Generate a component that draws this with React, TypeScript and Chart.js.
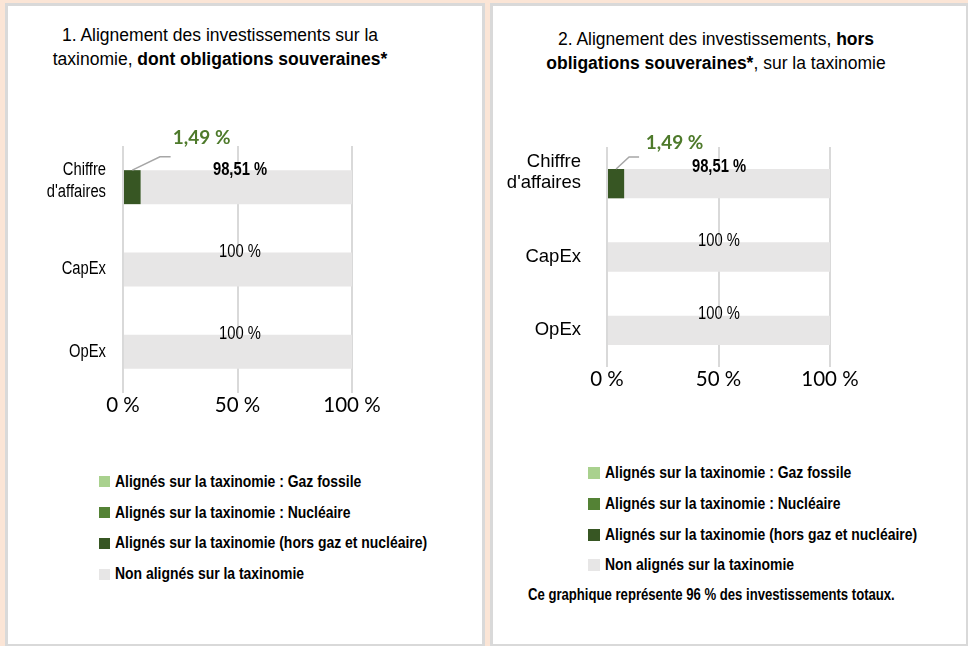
import React, { useEffect, useRef } from "react";
import { Chart, registerables } from "chart.js";

Chart.register(...registerables);

// ---------------- data ----------------
const CATEGORIES: (string | string[])[] = [["Chiffre", "d'affaires"], "CapEx", "OpEx"];
const SERIES_NAMES = [
  "Alignés sur la taxinomie : Gaz fossile",
  "Alignés sur la taxinomie : Nucléaire",
  "Alignés sur la taxinomie (hors gaz et nucléaire)",
  "Non alignés sur la taxinomie",
];
const GAS_VALUES = [0, 0, 0];
const NUCLEAR_VALUES = [0, 0, 0];
const ALIGNED_VALUES = [7.7, 0, 0];
const NOT_ALIGNED_VALUES = [92.3, 100, 100];
const ALIGNED_LABELS = ["1,49 %", "", ""];
const NOT_ALIGNED_LABELS = ["98,51 %", "100 %", "100 %"];
const X_TICKS = [0, 50, 100];
const FOOTNOTE = "Ce graphique représente 96 % des investissements totaux.";

const SERIES_COLORS = ["#a9d18e", "#548235", "#375623", "#e7e6e6"];
const SANS = "'Liberation Sans', Arial, sans-serif";
const NARROW_X = 0.82;

function drawText(ctx: any, text: string, x: number, y: number, font: string, align: string, sx: number, color: string) {
  ctx.save();
  ctx.translate(x, y);
  ctx.scale(sx, 1);
  ctx.font = font;
  ctx.fillStyle = color;
  ctx.textAlign = align;
  ctx.textBaseline = "middle";
  ctx.fillText(text, 0, 0);
  ctx.restore();
}

const labelPlugin = {
  id: "barLabels",
  afterDraw(chart: any, _args: any, opts: any) {
    const { ctx } = chart;
    const xs = chart.scales.x;
    const ys = chart.scales.y;
    // category labels on the y axis
    const Y = opts.yLabel;
    (chart.data.labels as any[]).forEach((lab: any, i: number) => {
      const lines: string[] = Array.isArray(lab) ? lab : [lab];
      const cy = ys.getPixelForTick(i) + (lines.length > 1 ? Y.multiDy : 0);
      const x = ys.right - Y.pad;
      lines.forEach((line, k) => {
        const y = cy + (k - (lines.length - 1) / 2) * Y.lineHeight;
        drawText(ctx, line, x, y, `${Y.size}px ${SANS}`, "right", Y.sx, "#000");
      });
    });
    const aligned = chart.getDatasetMeta(2).data;
    const rest = chart.getDatasetMeta(3).data;
    rest.forEach((bar: any, i: number) => {
      const text = NOT_ALIGNED_LABELS[i];
      if (!text) return;
      const top = bar.y - bar.height / 2;
      const font = `${ALIGNED_VALUES[i] > 0 ? "bold " : ""}${opts.valueSize}px ${SANS}`;
      drawText(ctx, text, xs.getPixelForValue(50) + opts.valueDx, top + opts.valueDy, font, "center", NARROW_X, "#000");
    });
    aligned.forEach((bar: any, i: number) => {
      const text = ALIGNED_LABELS[i];
      if (!text) return;
      const top = bar.y - bar.height / 2;
      const sx = (bar.x + bar.base) / 2;
      const L = opts.leader;
      ctx.save();
      ctx.strokeStyle = "#a6a6a6";
      ctx.lineWidth = 1.5;
      ctx.beginPath();
      ctx.moveTo(sx, top);
      ctx.lineTo(sx + L.ex, top + L.ey);
      ctx.lineTo(sx + L.ex + L.hx, top + L.ey);
      ctx.stroke();
      ctx.restore();
      drawText(ctx, text, sx + L.lx, top + L.ly, `bold ${opts.greenSize}px Lato, 'Open Sans', sans-serif`, "center", 1, "#4e7a2b");
    });
  },
};

type Cfg = {
  yLabel: { size: number; sx: number; lineHeight: number; pad: number; multiDy: number };
  barPct: number;
  padTop: number;
  padRight: number;
  yWidth: number;
  xHeight: number;
  valueSize: number;
  valueDx: number;
  valueDy: number;
  greenSize: number;
  leader: { ex: number; ey: number; hx: number; lx: number; ly: number };
};

function BarChart({ cfg, w, h, left, top }: { cfg: Cfg; w: number; h: number; left: number; top: number }) {
  const ref = useRef<HTMLCanvasElement>(null);
  useEffect(() => {
    if (!ref.current) return;
    const values = [GAS_VALUES, NUCLEAR_VALUES, ALIGNED_VALUES, NOT_ALIGNED_VALUES];
    const chart = new Chart(ref.current, {
      type: "bar",
      data: {
        labels: CATEGORIES as any,
        datasets: SERIES_NAMES.map((name, i) => ({
          label: name,
          data: values[i],
          backgroundColor: SERIES_COLORS[i],
          borderWidth: 0,
          barPercentage: cfg.barPct,
          categoryPercentage: 1,
        })),
      },
      options: {
        indexAxis: "y",
        responsive: false,
        animation: false,
        devicePixelRatio: 1,
        layout: { padding: { top: cfg.padTop, right: cfg.padRight, left: 0, bottom: 0 } },
        plugins: {
          legend: { display: false },
          title: { display: false },
          tooltip: { enabled: false },
          barLabels: cfg as any,
        } as any,
        scales: {
          x: {
            stacked: true,
            min: 0,
            max: 100,
            position: "bottom",
            afterBuildTicks: (s: any) => {
              s.ticks = X_TICKS.map((v) => ({ value: v }));
            },
            afterFit: (s: any) => {
              s.height = cfg.xHeight;
            },
            grid: { color: "#d9d9d9", lineWidth: 2, drawTicks: false },
            border: { display: false },
            ticks: {
              padding: 0,
              color: "#000",
              font: { family: "Lato, 'Open Sans', sans-serif", size: 20.5 },
              callback: (v: any) => `${v} %`,
              maxRotation: 0,
              autoSkip: false,
            },
          },
          y: {
            stacked: true,
            afterFit: (s: any) => {
              s.width = cfg.yWidth;
            },
            grid: { display: false, drawTicks: false },
            border: { display: false },
            ticks: { display: false },
          },
        },
      },
      plugins: [labelPlugin as any],
    });
    return () => chart.destroy();
  }, []);
  return <canvas ref={ref} width={w} height={h} style={{ position: "absolute", left, top, width: w, height: h }} />;
}

const CFG_1: Cfg = {
  yLabel: { size: 18, sx: NARROW_X, lineHeight: 22, pad: 17, multiDy: -6 },
  barPct: 0.413,
  padTop: 36,
  padRight: 123,
  yWidth: 113,
  xHeight: 37,
  valueSize: 18,
  valueDx: 2.5,
  valueDy: -0.5,
  greenSize: 19,
  leader: { ex: 27.6, ey: -13.4, hx: 10.7, lx: 69.3, ly: -32.7 },
};

const CFG_2: Cfg = {
  yLabel: { size: 18.5, sx: 1, lineHeight: 21, pad: 26, multiDy: -11 },
  barPct: 0.4,
  padTop: 37,
  padRight: 130,
  yWidth: 112,
  xHeight: 43,
  valueSize: 18,
  valueDx: 0.5,
  valueDy: -1.5,
  greenSize: 19,
  leader: { ex: 13, ey: -12, hx: 10, lx: 58.5, ly: -26 },
};

const narrowText = {
  fontFamily: SANS,
  fontWeight: "bold" as const,
  color: "#000",
  lineHeight: "22px",
  display: "inline-block",
  transform: `scaleX(${NARROW_X})`,
  transformOrigin: "left center",
  whiteSpace: "nowrap" as const,
};

function Legend({ left, top, box, rowGap }: { left: number; top: number; box: number; rowGap: number }) {
  return (
    <>
      {SERIES_NAMES.map((name, i) => (
        <div
          key={name}
          style={{
            position: "absolute",
            left,
            top: top + i * rowGap - 11,
            height: 22,
            display: "flex",
            alignItems: "center",
            whiteSpace: "nowrap",
          }}
        >
          <span style={{ width: box, height: box, background: SERIES_COLORS[i], marginRight: 5, flex: "none" }} />
          <span style={{ ...narrowText, fontSize: 17 }}>{name}</span>
        </div>
      ))}
    </>
  );
}

export default function App() {
  const panel = {
    position: "absolute" as const,
    top: 3,
    height: 644,
    boxSizing: "border-box" as const,
    border: "3px solid #d9d9d9",
    background: "#ffffff",
  };
  const title = {
    position: "absolute" as const,
    width: 480,
    textAlign: "center" as const,
    fontFamily: SANS,
    fontSize: 17.5,
    lineHeight: "24.5px",
    color: "#000",
    whiteSpace: "nowrap" as const,
  };
  return (
    <div
      style={{
        position: "absolute",
        left: 0,
        top: 0,
        width: 968,
        height: 646,
        background: "#fbe5d6",
        overflow: "hidden",
      }}
    >
      <div style={{ ...panel, left: 5, width: 480 }} />
      <div style={{ ...panel, left: 490, width: 479 }} />

      <div style={{ ...title, left: 220 - 240, top: 22.5 }}>
        1. Alignement des investissements sur la
        <br />
        taxinomie, <b>dont obligations souveraines*</b>
      </div>
      <div style={{ ...title, left: 716 - 240, top: 26.5 }}>
        2. Alignement des investissements, <b>hors</b>
        <br />
        <b>obligations souveraines*</b>, sur la taxinomie
      </div>

      <BarChart cfg={CFG_1} w={465} h={320} left={10} top={110} />
      <BarChart cfg={CFG_2} w={465} h={300} left={495} top={110} />

      <Legend left={99} top={481.7} box={11} rowGap={30.8} />
      <Legend left={588} top={473.3} box={12} rowGap={30.6} />

      <div style={{ position: "absolute", left: 528, top: 595 - 11, height: 22 }}>
        <span style={{ ...narrowText, fontSize: 16 }}>{FOOTNOTE}</span>
      </div>
    </div>
  );
}
